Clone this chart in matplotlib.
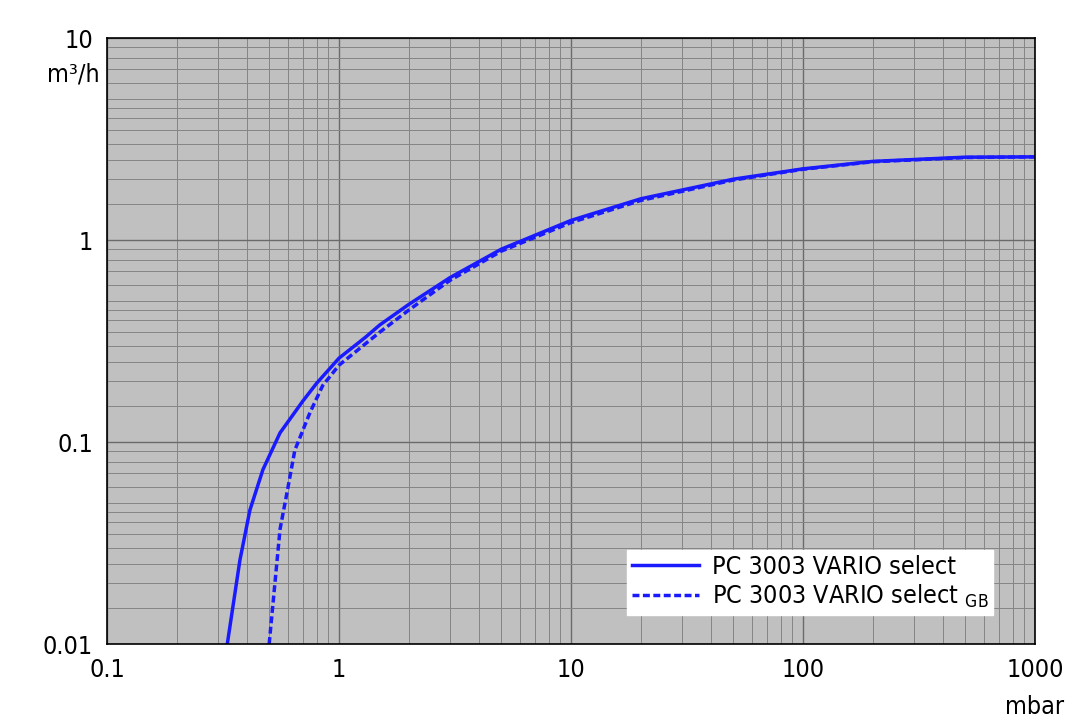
import matplotlib
matplotlib.use("Agg")
import matplotlib.pyplot as plt
from matplotlib.ticker import FixedLocator, LogLocator, NullFormatter

x_solid = [0.33, 0.374, 0.413, 0.47, 0.557, 0.7, 0.8, 1.0, 1.3, 1.5, 2, 3, 5, 10, 20, 50, 100, 200, 500, 1000]
y_solid = [0.01, 0.026, 0.046, 0.073, 0.111, 0.16, 0.195, 0.26, 0.33, 0.38, 0.48, 0.65, 0.9, 1.25, 1.6, 2.0, 2.25, 2.45, 2.57, 2.58]
x_gb = [0.5, 0.557, 0.6, 0.645, 0.75, 0.85, 1.0, 1.5, 2, 3, 5, 10, 20, 50, 100, 200, 500, 1000]
y_gb = [0.01, 0.037, 0.058, 0.091, 0.14, 0.19, 0.24, 0.35, 0.45, 0.63, 0.88, 1.22, 1.57, 1.98, 2.24, 2.44, 2.56, 2.58]

plt.rcParams['font.family'] = ['DejaVu Sans']
plt.rcParams['font.stretch'] = 'condensed'
fig = plt.figure(figsize=(10.8, 7.21), dpi=100)
ax = fig.add_axes([107/1080, 1-644/721, 928/1080, 606/721])
ax.set_facecolor('#c0c0c0')
ax.set_xscale('log'); ax.set_yscale('log')
ax.set_xlim(0.1, 1000); ax.set_ylim(0.01, 10)
ax.plot(x_solid, y_solid, color='#1a1aff', lw=2.5, label='PC 3003 VARIO select')
ax.plot(x_gb, y_gb, color='#1a1aff', lw=2.5, ls=(0, (2, 1)), label='PC 3003 VARIO select $_{\\mathrm{GB}}$')
ax.xaxis.set_major_locator(FixedLocator([0.1, 1, 10, 100, 1000]))
ax.yaxis.set_major_locator(FixedLocator([0.01, 0.1, 1, 10]))
ax.xaxis.set_minor_locator(LogLocator(subs=range(2, 10)))
ax.yaxis.set_minor_locator(LogLocator(subs=[1.5,2,2.5,3,3.5,4,4.5,5,6,7,8,9]))
ax.xaxis.set_minor_formatter(NullFormatter()); ax.yaxis.set_minor_formatter(NullFormatter())
ax.set_xticklabels(['0.1', '1', '10', '100', '1000'])
ax.set_yticklabels(['0.01', '0.1', '1', '10'])
ax.grid(True, which='major', color='#6a6a6a', lw=1.0)
ax.grid(True, which='minor', color='#858585', lw=0.7)
ax.tick_params(which='both', length=0, labelsize=18, pad=10)
for s in ax.spines.values():
    s.set_color('black'); s.set_linewidth(1.2)
fig.text(100/1080, 1-75/721, 'm³/h', ha='right', va='center', fontsize=18)
fig.text(1035/1080, 1-707/721, 'mbar', ha='center', va='center', fontsize=18)
ax.legend(loc='lower right', bbox_to_anchor=(0.955, 0.048), fontsize=18, frameon=True, fancybox=False,
          edgecolor='white', framealpha=1, borderpad=0.2, handlelength=2.7, labelspacing=0.15,
          handletextpad=0.5, borderaxespad=0)
fig.savefig('out.png', dpi=100)
